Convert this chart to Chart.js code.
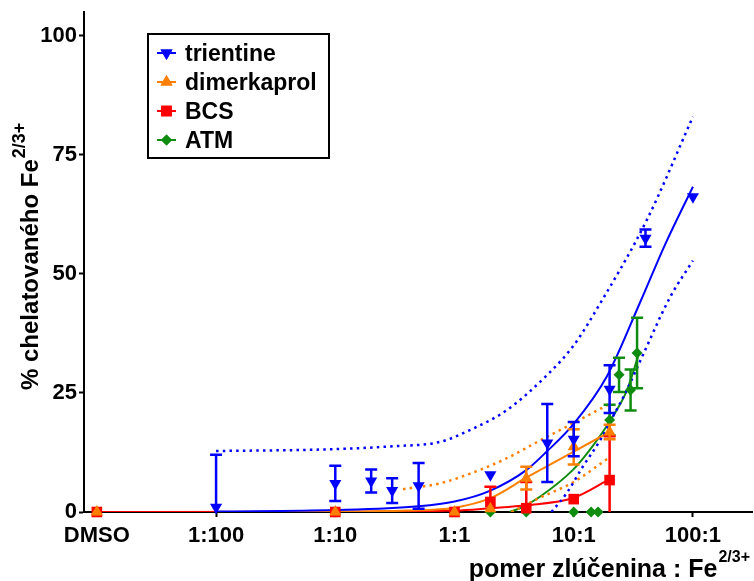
<!DOCTYPE html>
<html>
<head>
<meta charset="utf-8">
<script src="https://cdn.jsdelivr.net/npm/chart.js@4.4.1/dist/chart.umd.min.js"></script>
<style>
    html, body { margin: 0; padding: 0; background: #fff; }
    #wrap { width: 754px; height: 581px; }
</style>
</head>
<body>
<div id="wrap"><canvas id="chelChart" width="754" height="581"></canvas></div>
<script>
(function () {
    "use strict";

    var seriesNames = ['trientine', 'dimerkaprol', 'BCS', 'ATM'];
    var seriesColors = ['#0000ff', '#ff8000', '#ff0000', '#108c10'];

    var xTickValues = [0.001, 0.01, 0.1, 1, 10, 100];
    var xTickLabels = ['DMSO', '1:100', '1:10', '1:1', '10:1', '100:1'];
    var yTickValues = [0, 25, 50, 75, 100];

    // trientine - mean, SD
    var trientineX = [0.01, 0.1, 0.2, 0.3, 0.5, 2, 6, 10, 20, 40, 100];
    var trientineY = [1, 6, 6.5, 4.5, 5.5, 7.8, 14.5, 15.3, 25.8, 57.5, 66.2];
    var trientineErr = [11, 3.7, 2.4, 2.6, 4.8, 0, 8.2, 3.6, 5, 1.8, 0];
    // trientine fit + 95% band
    var trientineFitX = [0.01, 0.1, 0.5, 1, 2, 4, 6, 10, 19, 36, 58, 100];
    var trientineFitY = [0.1, 0.4, 1.2, 2.2, 4.5, 8.8, 12.8, 18.5, 28.5, 44, 56, 68.3];
    var trientineHiX = [0.01, 0.1, 0.3, 0.75, 1.4, 2.75, 6, 10, 16.4, 41, 100];
    var trientineHiY = [12.8, 13.2, 13.8, 14.7, 17.4, 21.4, 28.8, 35, 43.5, 61.3, 83];
    var trientineLoX = [6.5, 8.75, 11.9, 16.6, 21.3, 27.9, 35.8, 64, 100];
    var trientineLoY = [0, 4, 9.5, 15, 20, 25.6, 31.5, 45, 52.8];

    // dimerkaprol
    var dimerkaprolX = [0.001, 0.1, 1, 2, 4, 10, 20];
    var dimerkaprolY = [0, 0, 0, 0.7, 7.1, 13.7, 16.8];
    var dimerkaprolErr = [0, 0, 0, 0, 2.4, 3.7, 1.5];
    var dimerkaprolFitX = [0.01, 0.1, 0.4, 1, 2, 4, 10, 20];
    var dimerkaprolFitY = [0, 0.05, 0.3, 0.9, 2.9, 7.2, 12.7, 16.8];
    var dimerkaprolHiX = [0.37, 0.75, 1.4, 2.75, 5.2, 10, 20];
    var dimerkaprolHiY = [4.8, 6, 8.2, 11.3, 15, 18.7, 22.7];
    var dimerkaprolLoX = [3, 5, 10, 20];
    var dimerkaprolLoY = [0, 2.8, 6.3, 11.5];

    // BCS
    var bcsX = [0.001, 0.1, 1, 2, 4, 10, 20];
    var bcsY = [0, 0, 0, 2.1, 0.8, 2.7, 6.7];
    var bcsErr = [0, 0, 0, 3.2, 5.5, 0, 9.2];
    var bcsFitX = [0.001, 0.1, 1, 2, 4, 10, 20];
    var bcsFitY = [0, 0.05, 0.3, 0.8, 1.4, 3, 6.9];

    // ATM
    var atmX = [0.1, 2, 4, 10, 14, 16, 20, 24, 30, 34];
    var atmY = [0, 0, 0, 0, 0, 0, 19.3, 28.8, 25.6, 33.4];
    var atmErr = [0, 0, 0, 0, 0, 0, 3.2, 3.6, 4.3, 7.4];
    var atmFitX = [2.9, 3.7, 5.2, 9.8, 13.6, 20, 28, 35];
    var atmFitY = [0, 1, 3.2, 8.8, 13, 19, 25.6, 33];

    var FONT = '"Liberation Sans", Arial, sans-serif';
    var DOTS = [2.5, 4.2];

    function pts(xs, ys) {
        return xs.map(function (x, i) { return {x: x, y: ys[i]}; });
    }

    var markerStyles = [
        {style: 'triangle', radius: 7, rotation: 180},
        {style: 'triangle', radius: 7, rotation: 0},
        {style: 'rect', radius: 7.5, rotation: 0},
        {style: 'rectRot', radius: 5.5, rotation: 0}
    ];

    function markerSet(idx, xs, ys, errs) {
        var m = markerStyles[idx];
        return {
            type: 'line',
            label: seriesNames[idx],
            data: pts(xs, ys),
            errors: errs,
            showLine: false,
            clip: false,
            pointStyle: m.style,
            pointRadius: m.radius,
            pointRotation: m.rotation,
            pointBackgroundColor: seriesColors[idx],
            pointBorderColor: seriesColors[idx],
            pointBorderWidth: 0,
            borderColor: seriesColors[idx],
            order: idx
        };
    }

    function fitSet(idx, xs, ys, dotted) {
        return {
            type: 'line',
            data: pts(xs, ys),
            borderColor: seriesColors[idx],
            borderWidth: dotted ? 2.5 : 2,
            borderDash: dotted ? DOTS : [],
            pointRadius: 0,
            fill: false,
            cubicInterpolationMode: 'monotone',
            order: 10 + idx
        };
    }

    var datasets = [
        markerSet(0, trientineX, trientineY, trientineErr),
        markerSet(1, dimerkaprolX, dimerkaprolY, dimerkaprolErr),
        markerSet(2, bcsX, bcsY, bcsErr),
        markerSet(3, atmX, atmY, atmErr),
        fitSet(0, trientineFitX, trientineFitY, false),
        fitSet(0, trientineHiX, trientineHiY, true),
        fitSet(0, trientineLoX, trientineLoY, true),
        fitSet(1, dimerkaprolFitX, dimerkaprolFitY, false),
        fitSet(1, dimerkaprolHiX, dimerkaprolHiY, true),
        fitSet(1, dimerkaprolLoX, dimerkaprolLoY, true),
        fitSet(2, bcsFitX, bcsFitY, false),
        fitSet(3, atmFitX, atmFitY, false)
    ];

    var errorBars = {
        id: 'errorBars',
        beforeDatasetDraw: function (chart, args) {
            var ds = chart.data.datasets[args.index];
            if (!ds.errors) return;
            var ctx = chart.ctx;
            var xs = chart.scales.x, ys = chart.scales.y;
            var area = chart.chartArea;
            ctx.save();
            ctx.strokeStyle = ds.borderColor;
            ctx.lineWidth = 2.5;
            ds.data.forEach(function (p, i) {
                var e = ds.errors[i];
                if (!e) return;
                var px = xs.getPixelForValue(p.x);
                var top = ys.getPixelForValue(p.y + e);
                var bot = Math.min(ys.getPixelForValue(p.y - e), area.bottom);
                ctx.beginPath();
                ctx.moveTo(px, top);
                ctx.lineTo(px, bot);
                ctx.moveTo(px - 6, top);
                ctx.lineTo(px + 6, top);
                if (p.y - e >= 0) {
                    ctx.moveTo(px - 6, bot);
                    ctx.lineTo(px + 6, bot);
                }
                ctx.stroke();
            });
            ctx.restore();
        }
    };

    var annotations = {
        id: 'annotations',
        afterDraw: function (chart) {
            var ctx = chart.ctx;
            ctx.save();
            ctx.fillStyle = '#000';
            ctx.textAlign = 'left';
            ctx.textBaseline = 'alphabetic';

            // x title
            ctx.font = 'bold 25px ' + FONT;
            var main = 'pomer zlúčenina : Fe';
            var w = ctx.measureText(main).width;
            ctx.font = 'bold 16px ' + FONT;
            var ws = ctx.measureText('2/3+').width;
            var x0 = 749 - w - ws;
            ctx.font = 'bold 25px ' + FONT;
            ctx.fillText(main, x0, 577);
            ctx.font = 'bold 16px ' + FONT;
            ctx.fillText('2/3+', x0 + w + 1, 562);

            // y title
            ctx.save();
            ctx.translate(38, 390);
            ctx.rotate(-Math.PI / 2);
            ctx.font = 'bold 24px ' + FONT;
            var ym = '% chelatovaného Fe';
            var yw = ctx.measureText(ym).width;
            ctx.fillText(ym, 0, 0);
            ctx.font = 'bold 18px ' + FONT;
            ctx.fillText('2/3+', yw + 1, -13);
            ctx.restore();

            // legend
            ctx.lineWidth = 2;
            ctx.strokeStyle = '#000';
            ctx.strokeRect(148, 34, 181, 124);
            var baselines = [61, 90, 119, 148];
            seriesNames.forEach(function (name, i) {
                var cy = baselines[i] - 8;
                var m = markerStyles[i];
                ctx.strokeStyle = seriesColors[i];
                ctx.fillStyle = seriesColors[i];
                ctx.lineWidth = 2;
                ctx.beginPath();
                ctx.moveTo(157, cy);
                ctx.lineTo(176, cy);
                ctx.stroke();
                Chart.helpers.drawPoint(ctx, {
                    pointStyle: m.style,
                    radius: m.radius,
                    rotation: m.rotation,
                    borderWidth: 0
                }, 166.5, cy);
                ctx.fill();
                ctx.fillStyle = '#000';
                ctx.font = 'bold 23px ' + FONT;
                ctx.fillText(name, 185, baselines[i]);
            });
            ctx.restore();
        }
    };

    var tickFont = {family: FONT, size: 22, weight: 'bold'};

    new Chart(document.getElementById('chelChart').getContext('2d'), {
        type: 'scatter',
        data: {datasets: datasets},
        plugins: [errorBars, annotations],
        options: {
            responsive: false,
            animation: false,
            layout: {autoPadding: false, padding: {left: 0, right: 2, top: 12, bottom: 0}},
            plugins: {
                legend: {display: false},
                tooltip: {enabled: false}
            },
            scales: {
                x: {
                    type: 'logarithmic',
                    min: 0.00078,
                    max: 313,
                    afterBuildTicks: function (scale) {
                        scale.ticks = xTickValues.map(function (v) { return {value: v}; });
                    },
                    afterFit: function (scale) {
                        scale.height = 69;
                        scale.paddingLeft = 0;
                        scale.paddingRight = 0;
                    },
                    ticks: {
                        callback: function (v, i) { return xTickLabels[i]; },
                        font: tickFont,
                        color: '#000',
                        padding: 6,
                        maxRotation: 0,
                        autoSkip: false
                    },
                    grid: {display: true, drawOnChartArea: false, drawTicks: true, tickLength: 5, tickWidth: 2, tickColor: '#000'},
                    border: {display: true, color: '#000', width: 2}
                },
                y: {
                    type: 'linear',
                    min: 0,
                    max: 105,
                    afterBuildTicks: function (scale) {
                        scale.ticks = yTickValues.map(function (v) { return {value: v}; });
                    },
                    afterFit: function (scale) {
                        scale.width = 84;
                        scale.paddingTop = 0;
                        scale.paddingBottom = 0;
                    },
                    ticks: {
                        font: tickFont,
                        color: '#000',
                        padding: 2
                    },
                    grid: {display: true, drawOnChartArea: false, drawTicks: true, tickLength: 5, tickWidth: 2, tickColor: '#000'},
                    border: {display: true, color: '#000', width: 2}
                }
            }
        }
    });
}());
</script>
</body>
</html>
